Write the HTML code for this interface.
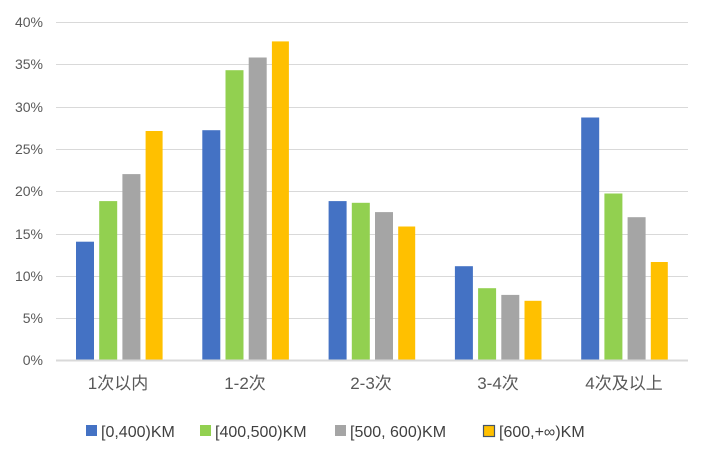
<!DOCTYPE html><html><head><style>body{margin:0;background:#fff}</style></head><body>
<svg width="711" height="455" xmlns="http://www.w3.org/2000/svg" font-family="Liberation Sans, Noto Sans CJK SC, sans-serif">
<g stroke="#d9d9d9" stroke-width="1">
<line x1="56" x2="688" y1="22.5" y2="22.5"/><line x1="56" x2="688" y1="64.5" y2="64.5"/><line x1="56" x2="688" y1="107.5" y2="107.5"/><line x1="56" x2="688" y1="149.5" y2="149.5"/><line x1="56" x2="688" y1="191.5" y2="191.5"/><line x1="56" x2="688" y1="234.5" y2="234.5"/><line x1="56" x2="688" y1="276.5" y2="276.5"/><line x1="56" x2="688" y1="318.5" y2="318.5"/>
</g>
<g font-size="14" fill="#595959" text-anchor="end">
<text x="43" y="27">40%</text><text x="43" y="69">35%</text><text x="43" y="112">30%</text><text x="43" y="154">25%</text><text x="43" y="196">20%</text><text x="43" y="239">15%</text><text x="43" y="281">10%</text><text x="43" y="323">5%</text><text x="43" y="365">0%</text>
</g>
<g>
<rect x="76" y="241.7" width="18" height="118.3" fill="#4472c4"/>
<rect x="99.2" y="201.1" width="18" height="158.9" fill="#92d050"/>
<rect x="122.4" y="174.1" width="18" height="185.9" fill="#a5a5a5"/>
<rect x="145.6" y="131" width="17" height="229" fill="#ffc000"/>
<rect x="202.3" y="130.2" width="18" height="229.8" fill="#4472c4"/>
<rect x="225.5" y="70.2" width="18" height="289.8" fill="#92d050"/>
<rect x="248.7" y="57.5" width="18" height="302.5" fill="#a5a5a5"/>
<rect x="271.9" y="41.4" width="17" height="318.6" fill="#ffc000"/>
<rect x="328.6" y="201.1" width="18" height="158.9" fill="#4472c4"/>
<rect x="351.8" y="202.8" width="18" height="157.2" fill="#92d050"/>
<rect x="375" y="212.1" width="18" height="147.9" fill="#a5a5a5"/>
<rect x="398.2" y="226.5" width="17" height="133.5" fill="#ffc000"/>
<rect x="454.9" y="266.2" width="18" height="93.8" fill="#4472c4"/>
<rect x="478.1" y="288.2" width="18" height="71.8" fill="#92d050"/>
<rect x="501.3" y="294.9" width="18" height="65.1" fill="#a5a5a5"/>
<rect x="524.5" y="300.8" width="17" height="59.2" fill="#ffc000"/>
<rect x="581.2" y="117.5" width="18" height="242.5" fill="#4472c4"/>
<rect x="604.4" y="193.5" width="18" height="166.5" fill="#92d050"/>
<rect x="627.6" y="217.2" width="18" height="142.8" fill="#a5a5a5"/>
<rect x="650.8" y="262" width="17" height="98" fill="#ffc000"/>
</g>
<line x1="56" x2="688" y1="360.5" y2="360.5" stroke="#d9d9d9" stroke-width="2"/>
<g font-size="17" fill="#595959" text-anchor="middle">
<text x="118" y="389">1次以内</text><text x="245" y="389">1-2次</text><text x="371" y="389">2-3次</text><text x="498" y="389">3-4次</text><text x="624" y="389">4次及以上</text>
</g>
<g font-size="16" fill="#404040">
<rect x="86" y="425" width="11" height="11" fill="#4472c4"/><text x="101" y="437">[0,400)KM</text>
<rect x="200" y="425" width="11" height="11" fill="#92d050"/><text x="215" y="437">[400,500)KM</text>
<rect x="335" y="425" width="11" height="11" fill="#a5a5a5"/><text x="350" y="437">[500, 600)KM</text>
<rect x="483.5" y="425.5" width="11" height="11" fill="#ffc000" stroke="#44546a" stroke-width="1.2"/><text x="499" y="437">[600,+∞)KM</text>
</g>
</svg></body></html>
